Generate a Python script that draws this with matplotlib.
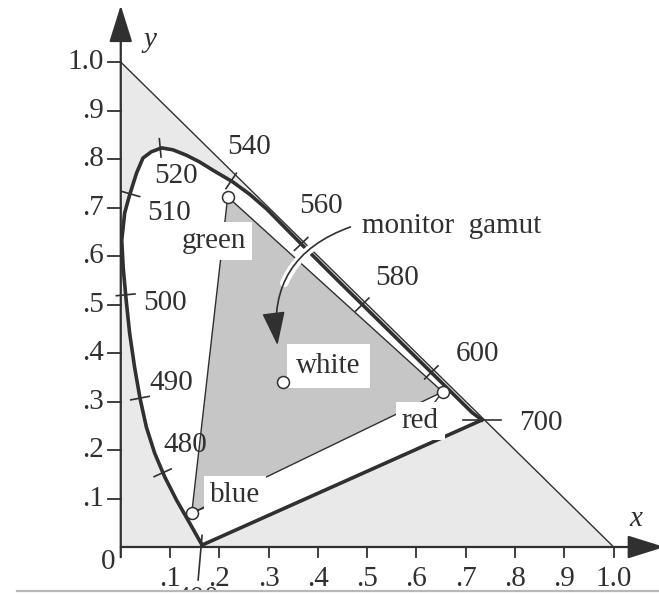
import numpy as np
import matplotlib.pyplot as plt
from matplotlib.patches import Polygon, FancyArrowPatch

# spectral locus outline, blue end (400 nm) round to red end (700 nm)
locus_x = [0.165, 0.140, 0.113, 0.089, 0.069, 0.052, 0.039, 0.028, 0.018, 0.011,
           0.005, 0.002, 0.008, 0.018, 0.032, 0.045, 0.062, 0.083, 0.106, 0.133,
           0.160, 0.187, 0.227, 0.262, 0.296, 0.331, 0.366, 0.437, 0.505, 0.568,
           0.620, 0.659, 0.685, 0.713, 0.733]
locus_y = [0.004, 0.049, 0.097, 0.145, 0.193, 0.247, 0.307, 0.371, 0.441, 0.509,
           0.575, 0.633, 0.689, 0.726, 0.771, 0.802, 0.815, 0.823, 0.819, 0.808,
           0.794, 0.777, 0.753, 0.727, 0.697, 0.661, 0.625, 0.553, 0.485, 0.422,
           0.370, 0.331, 0.305, 0.277, 0.262]

# wavelength marks on the locus (nm, x, y)
mark_wl = [480, 490, 500, 510, 520, 540, 560, 580, 600, 700]
mark_x = [0.085, 0.039, 0.010, 0.020, 0.080, 0.224, 0.366, 0.490, 0.630, 0.733]
mark_y = [0.153, 0.307, 0.520, 0.728, 0.823, 0.755, 0.625, 0.500, 0.360, 0.262]

# monitor primaries and white point
primary_names = ['red', 'green', 'blue']
primary_x = [0.653, 0.217, 0.144]
primary_y = [0.320, 0.722, 0.070]
white_x, white_y = 0.329, 0.340

axis_ticks = [0.1, 0.2, 0.3, 0.4, 0.5, 0.6, 0.7, 0.8, 0.9, 1.0]
axis_tick_labels = ['.1', '.2', '.3', '.4', '.5', '.6', '.7', '.8', '.9', '1.0']

# where the wavelength numbers sit
wl_label_pos = {480: (0.130, 0.210), 490: (0.103, 0.338), 500: (0.089, 0.503),
                510: (0.097, 0.689), 520: (0.112, 0.765), 540: (0.260, 0.825),
                560: (0.406, 0.703), 580: (0.560, 0.555), 600: (0.724, 0.398),
                700: (0.852, 0.256)}

ink = '#303030'
font = 'Liberation Serif'
fs = 21

fig = plt.figure(figsize=(6.59, 5.95), dpi=100)
ax = fig.add_axes([0, 0, 1, 1])
ax.set_xlim(-0.245, 1.092)
ax.set_ylim(-0.099, 1.128)
ax.axis('off')

lx = np.array(locus_x)
ly = np.array(locus_y)

# x + y <= 1 triangle, locus region, monitor gamut
ax.add_patch(Polygon([(0, 0), (1, 0), (0, 1)], closed=True, fc='#e9e9e9', ec='none', zorder=1))
ax.add_patch(Polygon(np.column_stack([lx, ly]), closed=True, fc='white', ec='none', zorder=2))
ax.add_patch(Polygon(np.column_stack([primary_x, primary_y]), closed=True,
                     fc='#c6c6c6', ec=ink, lw=1.0, zorder=3))
ax.plot([0, 1], [1, 0], color=ink, lw=1.0, zorder=4)

# locus and purple line
ax.plot(lx, ly, color=ink, lw=2.6, solid_joinstyle='round', zorder=5)
ax.plot([lx[0], lx[-1]], [ly[0], ly[-1]], color=ink, lw=2.6, solid_capstyle='round', zorder=5)

# wavelength ticks across the locus, square to the curve
for wl, mx, my in zip(mark_wl, mark_x, mark_y):
    if wl == 700:
        nx, ny, half = 1.0, 0.0, 0.038
    else:
        i = int(np.argmin(np.hypot(lx - mx, ly - my)))
        tx, ty = lx[i + 1] - lx[i - 1], ly[i + 1] - ly[i - 1]
        n = np.hypot(tx, ty)
        nx, ny, half = -ty / n, tx / n, 0.019
    ax.plot([mx - nx * half, mx + nx * half], [my - ny * half, my + ny * half],
            color=ink, lw=1.2, zorder=6)
    px, py = wl_label_pos[wl]
    ax.text(px, py, str(wl), family=font, fontsize=fs, color=ink,
            ha='center', va='center', zorder=12)

# 400 nm tick runs down past the x axis; its number sits on the page edge
ax.plot([lx[0], lx[0] - 0.008], [ly[0] + 0.02, -0.068], color=ink, lw=1.2, zorder=6)
ax.text(0.156, -0.080, '400', family=font, fontsize=fs, color=ink, ha='center', va='top', zorder=6)

# axes with arrowheads
head = dict(arrowstyle='-|>,head_length=1.15,head_width=0.36', color=ink, lw=1.6,
            mutation_scale=20, shrinkA=0, shrinkB=0)
ax.annotate('', xy=(1.103, 0), xytext=(0, 0), arrowprops=head, annotation_clip=False, zorder=7)
ax.annotate('', xy=(0, 1.117), xytext=(0, -0.021), arrowprops=head, annotation_clip=False, zorder=7)
for t, lab in zip(axis_ticks, axis_tick_labels):
    ax.plot([t, t], [0, -0.021], color=ink, lw=1.3, zorder=7)
    ax.plot([-0.026, 0], [t, t], color=ink, lw=1.3, zorder=7)
    ax.text(t, -0.066, lab, family=font, fontsize=fs, color=ink, ha='center', va='center')
    ax.text(-0.034, t, lab, family=font, fontsize=fs, color=ink, ha='right', va='center')
ax.text(-0.026, -0.031, '0', family=font, fontsize=fs, color=ink, ha='center', va='center')
ax.text(0.059, 1.045, 'y', family=font, style='italic', fontsize=fs, color=ink, ha='center', va='center')
ax.text(1.045, 0.058, 'x', family=font, style='italic', fontsize=fs, color=ink, ha='center', va='center')

# monitor gamut callout
start = (0.466, 0.660)
tip = (0.318, 0.416)
ax.add_patch(FancyArrowPatch(start, tip, connectionstyle='arc3,rad=0.4', arrowstyle='-',
                             color='white', lw=6, shrinkA=20, shrinkB=45, zorder=8))
ax.add_patch(FancyArrowPatch(start, tip, connectionstyle='arc3,rad=0.4',
                             arrowstyle='-|>,head_length=1.05,head_width=0.36',
                             mutation_scale=20, color=ink, lw=1.2, shrinkA=0, shrinkB=0, zorder=9))
ax.text(0.489, 0.647, 'monitor  gamut', family=font, fontsize=fs, color=ink,
        ha='left', va='baseline', zorder=12)

# primary and white point labels
box = dict(boxstyle='square,pad=0.2', fc='white', ec='none')
ax.text(0.124, 0.616, 'green', family=font, fontsize=fs, color=ink, ha='left',
        va='baseline', bbox=box, zorder=10)
ax.text(0.356, 0.359, 'white', family=font, fontsize=fs, color=ink, ha='left',
        va='baseline', bbox=dict(boxstyle='square,pad=0.32', fc='white', ec='none'), zorder=10)
ax.annotate('red', xy=(primary_x[0], primary_y[0]), xytext=(0.570, 0.245),
            family=font, fontsize=fs, color=ink, ha='left', va='baseline', bbox=box, zorder=10,
            arrowprops=dict(arrowstyle='-', color=ink, lw=1.0, shrinkA=0, shrinkB=5))
ax.annotate('blue', xy=(primary_x[2], primary_y[2]), xytext=(0.181, 0.093),
            family=font, fontsize=fs, color=ink, ha='left', va='baseline', bbox=box, zorder=10,
            arrowprops=dict(arrowstyle='-', color=ink, lw=1.0, shrinkA=0, shrinkB=5))

ax.plot(primary_x + [white_x], primary_y + [white_y], 'o', ms=8.6, mfc='white',
        mec=ink, mew=1.1, zorder=11)

# page edge along the bottom
ax.axhspan(-0.2, -0.0907, color='white', zorder=13)
ax.plot([-0.21, 1.092], [-0.0907, -0.0907], color='#b8b8b8', lw=1.6, zorder=14)

fig.savefig('out.png', dpi=100)
